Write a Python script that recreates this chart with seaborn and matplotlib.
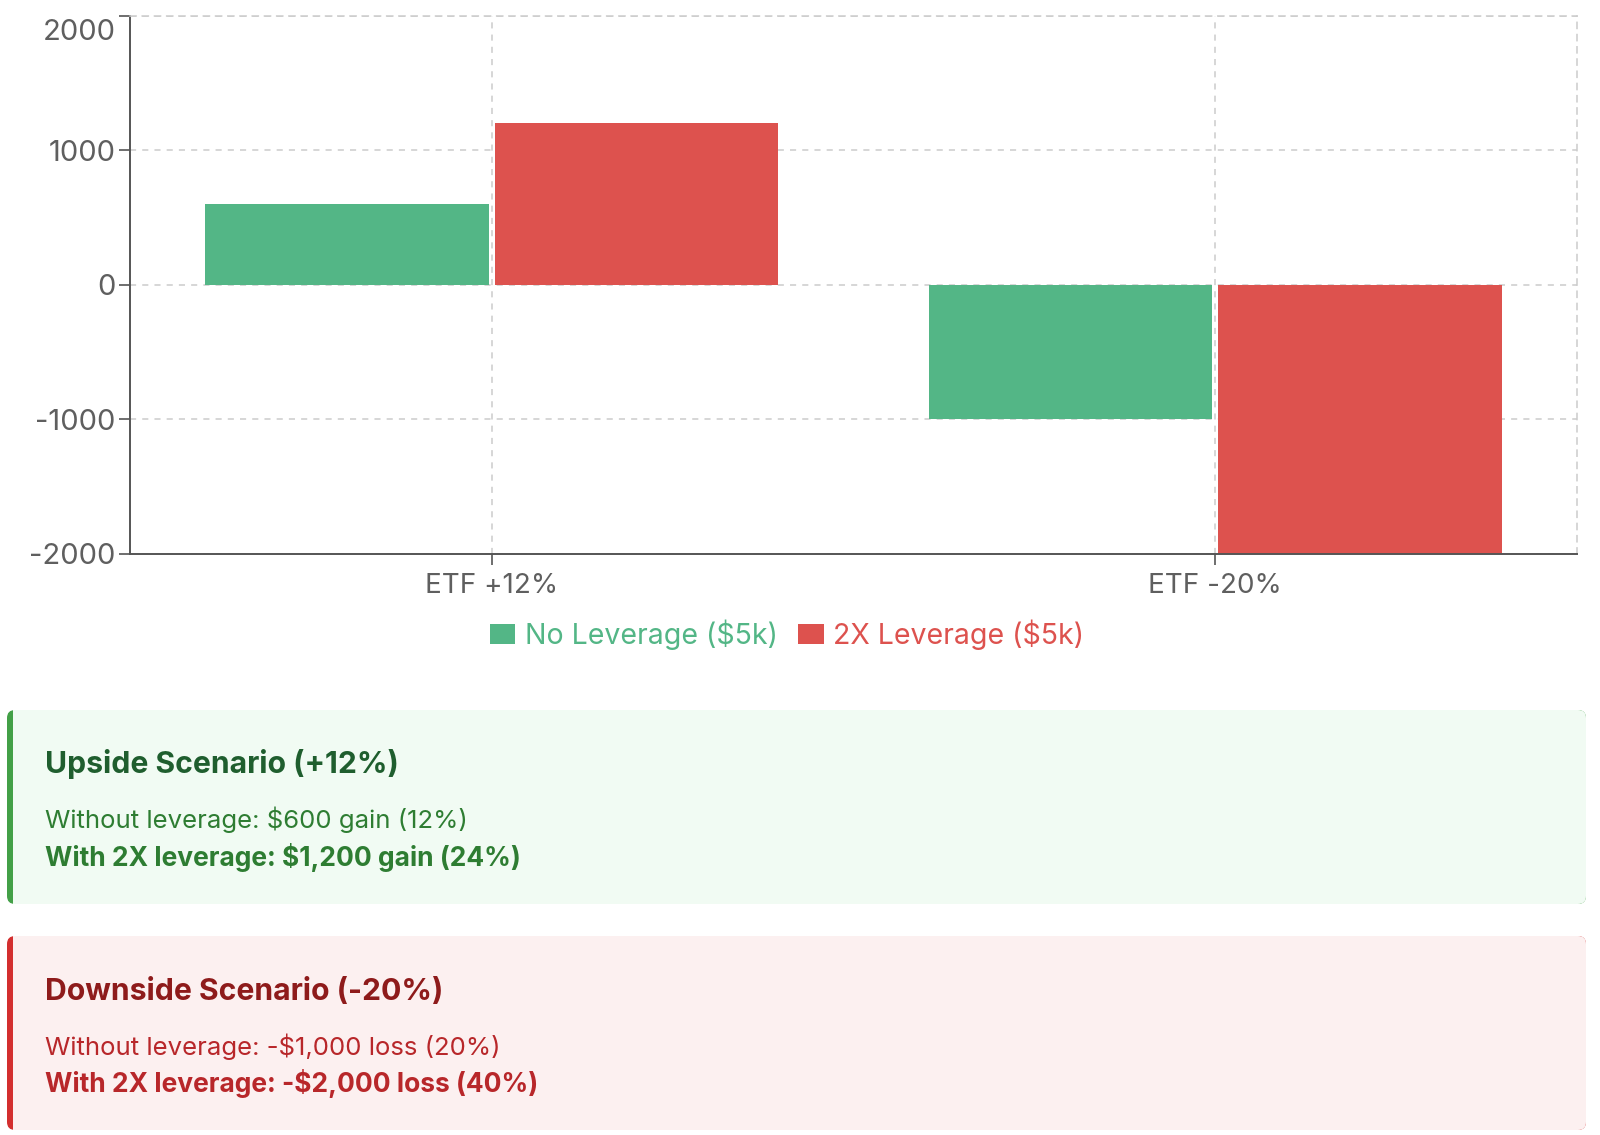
import matplotlib
matplotlib.use("Agg")
import matplotlib.pyplot as plt
import matplotlib.transforms as mtransforms
from matplotlib.patches import FancyBboxPatch, Rectangle
import pandas as pd
import seaborn as sns

# chart data
scenarios = ["ETF +12%", "ETF -20%"]
no_leverage = [600, -1000]
two_x_leverage = [1200, -2000]
series_names = ["No Leverage ($5k)", "2X Leverage ($5k)"]
y_ticks = [-2000, -1000, 0, 1000, 2000]

# summary boxes text
upside_title = "Upside Scenario (+12%)"
upside_lines = ["Without leverage: $600 gain (12%)", "With 2X leverage: $1,200 gain (24%)"]
downside_title = "Downside Scenario (-20%)"
downside_lines = ["Without leverage: -$1,000 loss (20%)", "With 2X leverage: -$2,000 loss (40%)"]

GREEN = "#53b686"
RED = "#dd524e"
FONT = "Inter"

df = pd.DataFrame({
    "scenario": scenarios * 2,
    "pnl": no_leverage + two_x_leverage,
    "strategy": [series_names[0]] * len(scenarios) + [series_names[1]] * len(scenarios),
})

sns.set_theme(style="white")
plt.rcParams["font.family"] = [FONT, "DejaVu Sans"]

W, H = 1600, 1135
fig = plt.figure(figsize=(W / 100, H / 100), dpi=100)

# main bar chart, placed in pixel terms
left, right, top, bottom = 130, 1577, 15.7, 554
ax = fig.add_axes([left / W, 1 - bottom / H, (right - left) / W, (bottom - top) / H])

sns.barplot(data=df, x="scenario", y="pnl", hue="strategy",
            palette=[GREEN, RED], width=0.8, gap=0.02, linewidth=0,
            saturation=1, ax=ax)

ax.set_ylim(-2000, 2000)
ax.set_xlim(-0.5, 1.5)
ax.set_yticks(y_ticks)
ax.set_yticklabels([str(v) for v in y_ticks])
ax.set_xlabel("")
ax.set_ylabel("")
ax.set_axisbelow(True)
ax.grid(True, linestyle=(0, (4, 4)), color="#cccccc", linewidth=1.1)
for side in ["top", "right"]:
    ax.spines[side].set_linestyle((0, (4, 4)))
    ax.spines[side].set_color("#cccccc")
    ax.spines[side].set_linewidth(1.1)
for side in ["left", "bottom"]:
    ax.spines[side].set_color("#555555")
    ax.spines[side].set_linewidth(1.4)
ax.tick_params(axis="both", which="major", length=8, width=1.2, color="#555555",
               labelcolor="#5f5f5f", direction="out", left=True, bottom=True)
ax.tick_params(axis="y", pad=2.5, labelsize=21)
ax.tick_params(axis="x", pad=6, labelsize=20)

# the top label sits inside the chart area, nudged down a little
top_label = ax.get_yticklabels()[-1]
top_label.set_transform(top_label.get_transform() +
                        mtransforms.ScaledTranslation(0, -14 / 100, fig.dpi_scale_trans))

# legend below the chart, text coloured like the bars
handles, labels = ax.get_legend_handles_labels()
ax.get_legend().remove()
fig.legend(handles, labels, loc="center", bbox_to_anchor=(787 / W, 1 - 635 / H),
           ncol=2, frameon=False, fontsize=20.5, labelcolor=[GREEN, RED],
           handlelength=0.9, handleheight=0.7, handletextpad=0.35,
           columnspacing=0.7)

# overlay in pixel coordinates for the scenario boxes
ov = fig.add_axes([0, 0, 1, 1])
ov.set_xlim(0, W)
ov.set_ylim(H, 0)
ov.axis("off")


def scenario_box(y0, y1, stripe, fill, title, lines, title_col, body_col, ys):
    x0, x1 = 7, 1586
    ov.add_patch(FancyBboxPatch((x0, y0), x1 - x0, y1 - y0,
                                boxstyle="round,pad=0,rounding_size=8",
                                facecolor=stripe, edgecolor="none"))
    ov.add_patch(FancyBboxPatch((x0 + 6, y0), x1 - x0 - 6, y1 - y0,
                                boxstyle="round,pad=0,rounding_size=8",
                                facecolor=fill, edgecolor="none"))
    ov.add_patch(Rectangle((x0 + 6, y0), 12, y1 - y0, facecolor=fill, edgecolor="none"))
    ov.text(45, ys[0], title, fontsize=21.7, fontweight="bold", color=title_col,
            va="baseline", ha="left")
    ov.text(45, ys[1], lines[0], fontsize=18.55, color=body_col,
            va="baseline", ha="left")
    ov.text(45, ys[2], lines[1], fontsize=19, fontweight="bold", color=body_col,
            va="baseline", ha="left")


scenario_box(710, 904, "#43a047", "#f1fbf3", upside_title, upside_lines,
             "#1f5e2e", "#2e7d32", [773, 828, 866])
scenario_box(936, 1130, "#d32f2f", "#fcf0f0", downside_title, downside_lines,
             "#8e1b1b", "#b8272a", [1000, 1055, 1092])

fig.savefig("out.png", dpi=100, facecolor="white")
